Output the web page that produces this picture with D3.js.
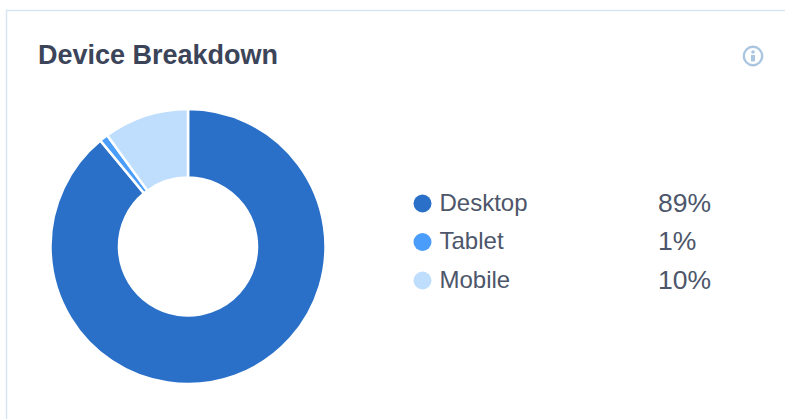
<!DOCTYPE html>
<html>
<head>
<meta charset="utf-8">
<script src="https://cdn.jsdelivr.net/npm/d3@7"></script>
<style>
  html, body { margin: 0; padding: 0; background: #fff; }
  svg { display: block; }
  text { font-family: "Liberation Sans", Arial, sans-serif; }
</style>
</head>
<body>
<svg id="chart" width="785" height="419"></svg>
<script>
const devices = ["Desktop", "Tablet", "Mobile"];
const shares = [89, 1, 10];
const shareLabels = ["89%", "1%", "10%"];
const colors = ["#2a70c8", "#4b9dfb", "#bfdefd"];
const chartTitle = "Device Breakdown";

const svg = d3.select("#chart");
const W = 785, H = 419;

// Card outline: top and left edges are visible, the rest runs off the page
svg.append("rect")
  .attr("x", 6.5).attr("y", 10.5)
  .attr("width", W + 20).attr("height", H + 20)
  .attr("fill", "#fff")
  .attr("stroke", "#d6e4f3")
  .attr("stroke-width", 1.4);

svg.append("text")
  .attr("x", 38).attr("y", 64)
  .attr("font-size", 27).attr("font-weight", 700)
  .attr("fill", "#3b4458")
  .text(chartTitle);

// Info icon in the card header
const info = svg.append("g").attr("transform", "translate(753,56)");
info.append("circle").attr("r", 9.2)
  .attr("fill", "none").attr("stroke", "#a9c5df").attr("stroke-width", 2.4);
info.append("circle").attr("cy", -4).attr("r", 1.8).attr("fill", "#a9c5df");
info.append("rect").attr("x", -2).attr("y", -1).attr("width", 4).attr("height", 6.4).attr("fill", "#a9c5df");

// Donut, clockwise from twelve o'clock
const pie = d3.pie().sort(null).value(d => d);
const arc = d3.arc().innerRadius(69).outerRadius(137.5);
const donut = svg.append("g").attr("transform", "translate(188,246.5)");
donut.selectAll("path")
  .data(pie(shares))
  .join("path")
  .attr("d", arc)
  .attr("fill", (d, i) => colors[i])
  .attr("stroke", "#fff")
  .attr("stroke-width", 2.5);

// Legend rows with the share in a right-hand column
const rowY = d3.scalePoint().domain(devices).range([203.5, 280.5]);
const legend = svg.append("g");
const rows = legend.selectAll("g")
  .data(devices)
  .join("g")
  .attr("transform", d => `translate(0,${rowY(d)})`);
rows.append("circle")
  .attr("cx", 422.5).attr("r", 9)
  .attr("fill", (d, i) => colors[i]);
rows.append("text")
  .attr("x", 439.5).attr("y", -1).attr("dy", "0.35em")
  .attr("font-size", 24)
  .attr("fill", "#4d566a")
  .text(d => d);
rows.append("text")
  .attr("x", 658).attr("y", -1).attr("dy", "0.35em")
  .attr("font-size", 26.5)
  .attr("fill", "#4d566a")
  .text((d, i) => shareLabels[i]);
</script>
</body>
</html>
